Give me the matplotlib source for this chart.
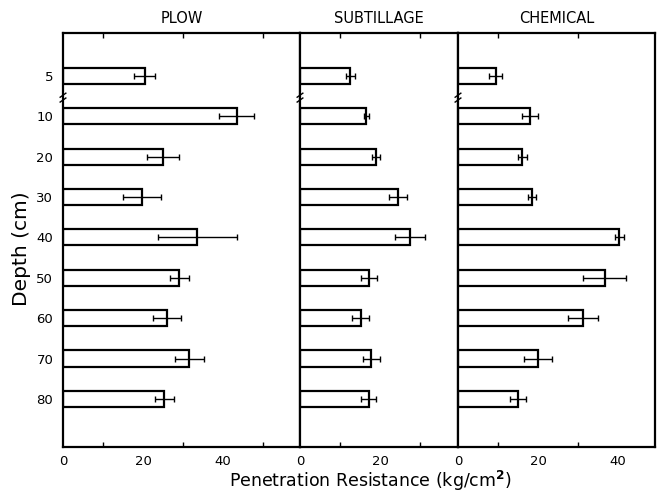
import matplotlib
matplotlib.use("Agg")
import matplotlib.pyplot as plt
import matplotlib.transforms as mtransforms
import numpy as np

depths = ["5", "10", "20", "30", "40", "50", "60", "70", "80"]
panels = ["PLOW", "SUBTILLAGE", "CHEMICAL"]
plow = [20.4, 43.4, 25.0, 19.8, 33.6, 29.1, 26.0, 31.6, 25.3]
plow_err = [2.6, 4.4, 3.9, 4.8, 9.8, 2.3, 3.5, 3.7, 2.4]
subtillage = [12.6, 16.6, 19.0, 24.5, 27.5, 17.2, 15.2, 17.8, 17.2]
subtillage_err = [1.2, 0.7, 1.1, 2.2, 3.7, 2.0, 2.1, 2.1, 1.9]
chemical = [9.4, 17.9, 16.1, 18.5, 40.3, 36.7, 31.3, 20.0, 14.9]
chemical_err = [1.6, 2.0, 1.2, 1.1, 1.1, 5.4, 3.7, 3.4, 2.0]
xlims = [59.25, 39.5, 49.25]
xticklabels = [[0, 20, 40], [0, 20], [0, 20, 40]]
minor = [[10, 20, 30, 40, 50], [10, 20, 30], [10, 20, 30, 40]]

values = [plow, subtillage, chemical]
errors = [plow_err, subtillage_err, chemical_err]

W, H = 664, 492
plt.rcParams['font.family'] = ['DejaVu Sans']
fig = plt.figure(figsize=(W / 100, H / 100), dpi=100)

px_per_unit = 4.0
left_px = 63
top_px, bot_px = 33, 447
y = np.arange(len(depths))

x0 = left_px
axes = []
for i in range(3):
    wpx = xlims[i] * px_per_unit
    ax = fig.add_axes([x0 / W, 1 - bot_px / H, wpx / W, (bot_px - top_px) / H])
    x0 += wpx
    axes.append(ax)
    ax.barh(y, values[i], height=0.40, color="white", edgecolor="black", linewidth=1.6)
    ax.errorbar(values[i], y, xerr=errors[i], fmt="none", ecolor="black",
                elinewidth=1.0, capsize=2.5, capthick=1.0)
    ax.set_xlim(0, xlims[i])
    ax.set_ylim(9.19, -1.06)
    ax.set_xticks(xticklabels[i])
    ax.set_xticks(minor[i], minor=True)
    ax.tick_params(axis="x", which="both", direction="in", top=True, length=3.5,
                   width=1.0, labelsize=9.5, pad=5.5)
    ax.tick_params(axis="x", which="major", length=0)
    for s in ax.spines.values():
        s.set_linewidth(1.6)
    ax.set_title(panels[i], fontsize=10.5, pad=7)
    if i == 0:
        ax.set_yticks(y)
        ax.set_yticklabels(depths, fontsize=9.5)
        ax.tick_params(axis="y", length=0, pad=7)
    else:
        ax.set_yticks([])
    # axis break marks between 5 and 10
    trans = mtransforms.blended_transform_factory(ax.transAxes, ax.transData)
    for dy in (0.0, 0.12):
        ax.plot([-0.012 * 59.25 / xlims[i], 0.012 * 59.25 / xlims[i]],
                [0.53 + dy, 0.43 + dy], transform=trans, color="black",
                lw=1.0, clip_on=False)

fig.text(22 / W, 1 - 249 / H, "Depth (cm)", rotation=90, ha="center", va="center",
         fontsize=14.5)
fig.text(370 / W, 1 - 481 / H,
         "Penetration Resistance (kg/cm$^\\mathbf{2}$)", ha="center", va="center",
         fontsize=12.5)

fig.savefig("out.png", dpi=100)
